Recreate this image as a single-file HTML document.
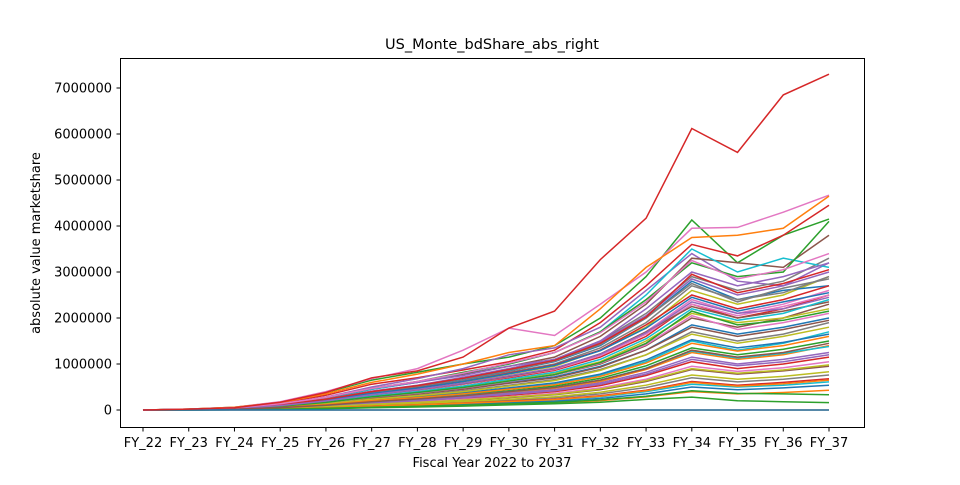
<!DOCTYPE html>
<html><head><meta charset="utf-8"><style>
body{margin:0;background:#fff;}
svg{font-family:"DejaVu Sans","Liberation Sans",sans-serif;}
</style></head><body>
<svg id="chart" width="960" height="480">
<rect width="960" height="480" fill="#fff"/>
<text x="492" y="49" font-size="14.5" text-anchor="middle">US_Monte_bdShare_abs_right</text>
<g id="plot"></g>
<rect x="120.5" y="58.5" width="744" height="369" fill="none" stroke="#000" stroke-width="1"/>
<g id="xt"></g>
<g id="yt"></g>
<text x="492" y="467" font-size="13" text-anchor="middle">Fiscal Year 2022 to 2037</text>
<text transform="translate(40,243) rotate(-90)" font-size="13" text-anchor="middle">absolute value marketshare</text>
</svg>
<script>
const categories=["FY_22","FY_23","FY_24","FY_25","FY_26","FY_27","FY_28","FY_29","FY_30","FY_31","FY_32","FY_33","FY_34","FY_35","FY_36","FY_37"];
const yTicks=[0,1000000,2000000,3000000,4000000,5000000,6000000,7000000];
// series values in thousands
const series=[
[0,0,0,0,0,0,0,0,0,0,0,0,0,0,0,0],
[0,20,60,170,380,650,820,1000,1150,1400,2000,2900,4130,3200,3800,4150],
[0,20,55,150,320,560,700,870,1050,1300,1900,2700,3600,3350,3800,4450],
[0,15,45,130,280,500,680,900,1200,1350,1800,2600,3400,2800,2700,3200],
[0,15,40,120,250,450,600,780,950,1150,1600,2300,3300,3200,3100,3800],
[0,20,60,180,400,680,900,1300,1780,1620,2300,3000,3950,3970,4300,4670],
[0,15,40,110,230,400,520,700,900,1100,1500,2100,2900,2600,2800,3300],
[0,10,35,100,200,350,480,600,780,950,1300,1800,2600,2300,2500,2900],
[0,15,45,120,260,450,600,800,1000,1250,1700,2500,3500,3000,3300,3100],
[0,12,40,110,220,380,500,650,850,1050,1400,2000,2800,2400,2600,2700],
[0,20,60,160,350,600,780,1000,1250,1400,2200,3100,3750,3800,3950,4650],
[0,15,45,130,270,470,620,820,1000,1250,1700,2400,3200,2900,3000,4100],
[0,10,30,90,180,320,420,560,700,860,1150,1600,2300,2000,2200,2500],
[0,15,45,130,280,470,600,750,950,1100,1500,2200,3000,2700,2900,3200],
[0,10,30,80,160,280,380,480,620,760,1000,1400,2000,1800,2000,2300],
[0,12,35,100,200,340,460,580,740,900,1200,1700,2400,2100,2300,2600],
[0,8,25,70,140,240,320,420,540,660,880,1200,1700,1500,1650,1900],
[0,10,30,90,180,300,400,520,660,800,1050,1500,2100,1900,2000,2200],
[0,8,22,60,120,210,280,360,460,560,760,1050,1500,1300,1450,1700],
[0,10,28,80,160,270,360,460,600,720,950,1300,1850,1650,1800,2000],
[0,6,18,50,100,170,230,300,380,470,620,880,1250,1100,1200,1400],
[0,7,20,55,110,190,250,330,420,520,690,960,1350,1200,1320,1500],
[0,5,15,42,85,140,190,250,320,400,530,750,1050,900,1000,1150],
[0,6,17,48,95,160,215,280,360,440,590,820,1150,1000,1100,1250],
[0,4,12,35,70,120,160,210,270,330,440,620,880,780,850,950],
[0,5,14,38,78,130,175,230,290,360,480,670,950,840,920,1050],
[0,3,10,28,56,95,130,170,215,265,350,490,700,610,670,760],
[0,4,11,30,62,105,140,185,235,290,385,540,760,670,730,830],
[0,3,8,22,45,78,105,135,175,215,285,400,560,500,540,610],
[0,2,7,20,40,70,95,120,155,190,250,350,500,440,480,540],
[0,2,6,16,33,56,75,100,125,155,205,285,400,350,380,430],
[0,2,5,14,28,48,65,85,110,135,170,230,280,200,180,160],
[0,3,9,25,50,85,115,150,190,235,310,430,620,540,600,680],
[0,5,16,45,90,150,200,265,340,420,560,780,1100,960,1050,1200],
[0,9,26,75,150,260,350,450,580,700,930,1300,1800,1600,1750,1950],
[0,11,32,95,190,320,430,560,720,880,1180,1650,2300,2050,2250,2500],
[0,13,38,105,215,370,490,640,820,1000,1350,1900,2700,2400,2550,2900],
[0,4,13,36,72,125,165,215,280,340,455,640,900,800,870,980],
[0,6,19,52,105,180,240,315,400,490,650,910,1280,1130,1230,1380],
[0,7,22,62,125,215,290,375,480,590,780,1090,1530,1350,1470,1650],
[0,3,9,24,48,82,110,145,185,225,300,420,600,520,570,650],
[0,2,6,18,36,60,82,105,135,165,220,300,420,360,350,330],
[0,12,36,100,210,360,480,620,800,980,1300,1850,2500,2200,2400,2700],
[0,14,42,118,240,410,540,710,900,1100,1480,2050,2850,2500,2700,3000],
[0,11,33,92,190,330,440,570,730,900,1220,1700,2250,2000,2150,2350],
[0,9,27,78,160,280,370,480,620,760,1020,1420,2050,1750,1900,2100],
[0,13,40,112,225,390,520,680,860,1060,1420,2000,2750,2350,2650,2850],
[0,8,24,66,135,235,310,400,520,640,860,1200,1650,1450,1600,1800],
[0,10,31,86,175,300,400,520,670,820,1100,1550,2200,1950,2100,2400],
[0,12,37,104,210,360,475,620,790,970,1290,1780,2450,2150,2350,2550],
[0,7,21,58,118,205,270,350,450,550,730,1020,1450,1280,1400,1600],
[0,9,28,80,165,285,380,490,630,770,1030,1450,2150,1850,1950,2150],
[0,14,41,115,235,400,530,690,880,1080,1450,2020,2950,2550,2750,3050],
[0,11,34,96,195,335,445,580,745,910,1210,1680,2350,2100,2200,2450],
[0,6,18,52,105,180,240,310,400,490,650,900,1300,1150,1250,1450],
[0,16,48,135,275,470,620,800,1020,1250,1680,2350,3250,2850,3050,3400]
];
const colors=["#1f77b4","#ff7f0e","#2ca02c","#d62728","#9467bd","#8c564b","#e377c2","#7f7f7f","#bcbd22","#17becf"];
const outlier=[0,20,50,170,380,700,850,1150,1780,2150,3270,4170,6120,5600,6850,7300];
const NS="http://www.w3.org/2000/svg";
const x0=143,dx=(829-143)/15;
function xs(i){return x0+i*dx;}
function ys(v){return 410-v/1000000*46;}
const plot=document.getElementById('plot');
function draw(arr,col,idx){
 const p=document.createElementNS(NS,'polyline');
 p.setAttribute('points',arr.map((v,i)=>xs(i).toFixed(1)+','+ys(v*1000).toFixed(1)).join(' '));
 p.setAttribute('fill','none');
 p.setAttribute('stroke',col);
 p.setAttribute('stroke-width','1.5');
 
 
 plot.appendChild(p);
}
series.forEach((s,k)=>{draw(s,colors[(k+1)%10],k);});
draw(series[0],colors[0],'flat');
draw(outlier,"#d62728",'outlier');
const xt=document.getElementById('xt');
categories.forEach((c,i)=>{
 const l=document.createElementNS(NS,'line');
 l.setAttribute('x1',xs(i));
 l.setAttribute('x2',xs(i));
 l.setAttribute('y1',427.5);
 l.setAttribute('y2',431.5);
 l.setAttribute('stroke','#000');
 
 
 xt.appendChild(l);
 const t=document.createElementNS(NS,'text');
 t.setAttribute('x',xs(i));
 t.setAttribute('y',447);
 t.setAttribute('font-size','13');
 t.setAttribute('text-anchor','middle');
 t.textContent=c;
 
 
 xt.appendChild(t);
});
const yt=document.getElementById('yt');
yTicks.forEach(v=>{
 const y=ys(v);
 const l=document.createElementNS(NS,'line');
 l.setAttribute('x1',116.5);
 l.setAttribute('x2',120.5);
 l.setAttribute('y1',y);
 l.setAttribute('y2',y);
 l.setAttribute('stroke','#000');
 
 
 yt.appendChild(l);
 const t=document.createElementNS(NS,'text');
 t.setAttribute('x',112);
 t.setAttribute('y',y+4.5);
 t.setAttribute('font-size','13');
 t.setAttribute('text-anchor','end');
 t.textContent=String(v);
 
 
 yt.appendChild(t);
});
</script>
</body></html>
